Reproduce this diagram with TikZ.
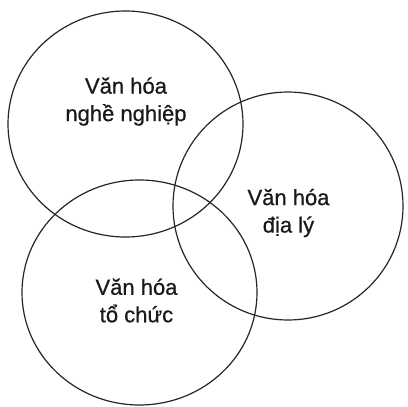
\documentclass[tikz,border=0pt]{standalone}
\usepackage{fontspec}
\setmainfont{Liberation Sans}
\newfontfamily\labfont{Liberation Sans}[FakeBold=0.6]
\begin{document}
\begin{tikzpicture}[x=1pt,y=-1pt,
  ring/.style={draw=black!85,line width=1.2pt},
  label/.style={font=\labfont\fontsize{22}{27.5}\selectfont,align=center,text=black!90,inner sep=0pt}]
\useasboundingbox (0,0) rectangle (408,407);
\fill[white] (0,0) rectangle (408,407);
\draw[ring] (125.5,124) ellipse [x radius=117.5pt, y radius=113pt];
\draw[ring] (288,206) ellipse [x radius=115pt, y radius=114pt];
\draw[ring] (139.5,292.5) ellipse [x radius=117.5pt, y radius=112.5pt];
\node[label] (nghe) at (126,101.5) {Văn hóa\\nghề nghiệp};
\node[label] (dialy) at (288.5,213) {Văn hóa\\địa lý};
\node[label] (tochuc) at (136.5,300.5) {Văn hóa\\tổ chức};
\end{tikzpicture}
\end{document}
